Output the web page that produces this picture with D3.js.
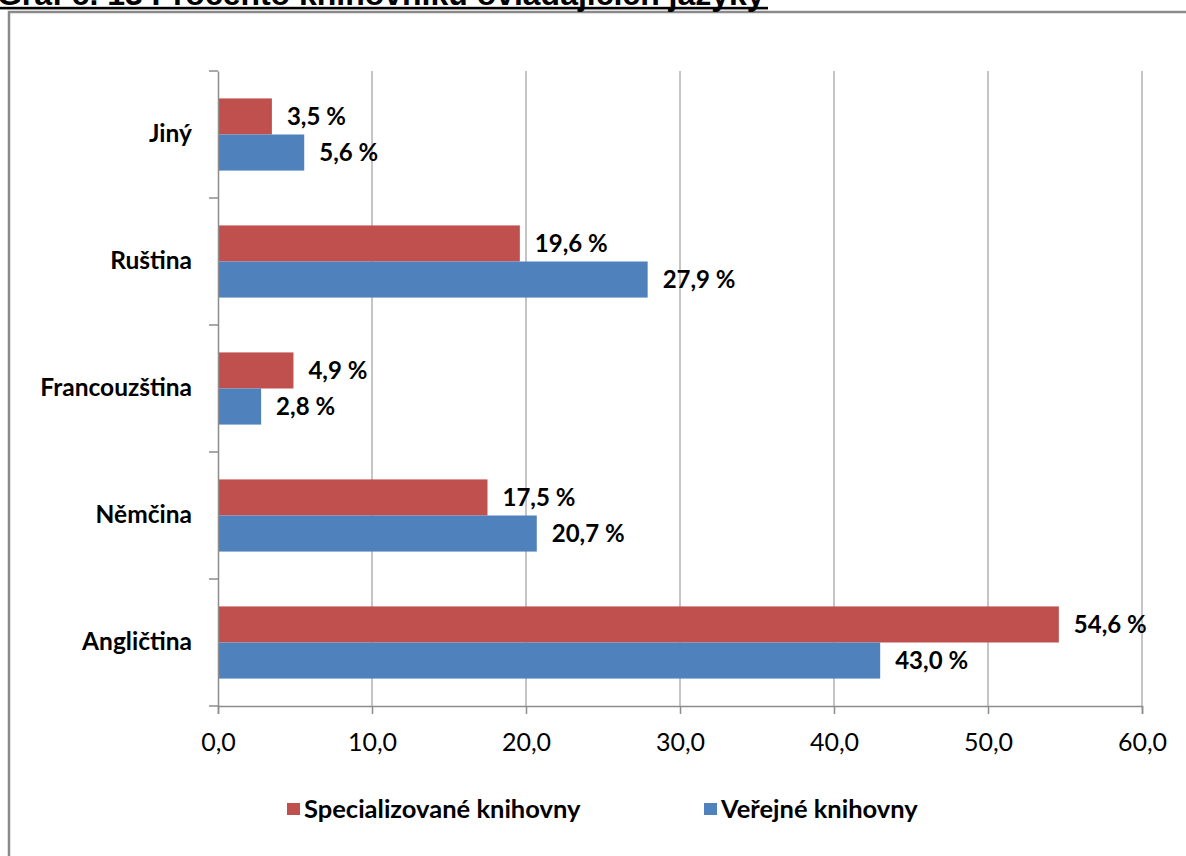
<!DOCTYPE html>
<html>
<head>
<meta charset="utf-8">
<script src="https://cdn.jsdelivr.net/npm/d3@7"></script>
<style>
  html, body { margin: 0; padding: 0; background: #fff; }
  svg { display: block; }
</style>
</head>
<body>
<svg id="chart" width="1186" height="856"></svg>
<script>
const titleText = "Graf č. 13 Procento knihovníků ovládajících jazyky";
const categories = ["Jiný", "Ruština", "Francouzština", "Němčina", "Angličtina"];
const seriesNames = ["Specializované knihovny", "Veřejné knihovny"];
const specializovane = [3.5, 19.6, 4.9, 17.5, 54.6];
const verejne = [5.6, 27.9, 2.8, 20.7, 43.0];
const xTicks = [0, 10, 20, 30, 40, 50, 60];
const colors = ["#C0504D", "#4F81BD"];

(function () {
const svg = d3.select("#chart");
const pLeft = 218, pRight = 1142, pTop = 71, pBottom = 706;

// frame
svg.append("rect").attr("x", 9).attr("y", 12).attr("width", 1300).attr("height", 1000)
  .attr("fill", "none").attr("stroke", "#8a8a8a").attr("stroke-width", 2.5);

// clipped title
const title = svg.append("text").attr("x", -3).attr("y", 5)
  .attr("font-family", "Liberation Sans, Arial, sans-serif").attr("font-weight", "bold")
  .attr("font-size", 24).attr("fill", "#000").text(titleText);
const tl = title.node().getComputedTextLength();
title.attr("font-size", 24 * 768 / tl);
svg.append("rect").attr("x", 0).attr("y", 6.8).attr("width", 768).attr("height", 2.6).attr("fill", "#000");

const x = d3.scaleLinear().domain([0, 60]).range([pLeft, pRight]);
const y = d3.scaleBand().domain(categories).range([pTop, pBottom]).paddingInner(0).paddingOuter(0);
const inner = d3.scaleBand().domain([0, 1]).range([0, y.bandwidth()]).paddingOuter(0.76).paddingInner(0);

// gridlines
svg.append("g").selectAll("line").data(xTicks.filter(d => d > 0)).join("line")
  .attr("x1", d => x(d)).attr("x2", d => x(d)).attr("y1", pTop).attr("y2", pBottom)
  .attr("stroke", "#8c8c8c").attr("stroke-width", 1);

// bars
const data = categories.map((c, i) => ({ c, vals: [specializovane[i], verejne[i]] }));
const groups = svg.append("g").selectAll("g").data(data).join("g")
  .attr("transform", d => `translate(0,${y(d.c)})`);
groups.selectAll("rect").data(d => d.vals.map((v, k) => ({ v, k }))).join("rect")
  .attr("x", x(0)).attr("y", d => inner(d.k)).attr("width", d => x(d.v) - x(0))
  .attr("height", inner.bandwidth()).attr("fill", d => colors[d.k]);
groups.selectAll("text").data(d => d.vals.map((v, k) => ({ v, k }))).join("text")
  .attr("x", d => x(d.v) + 15).attr("y", d => inner(d.k) + inner.bandwidth() / 2)
  .attr("dy", "0.36em")
  .attr("font-family", "Lato, sans-serif").attr("font-weight", "bold").attr("font-size", 24)
  .attr("fill", "#000")
  .text(d => d.v.toFixed(1).replace(".", ",") + " %");

// y axis
const yAxis = d3.axisLeft(y).tickSize(0).tickPadding(26);
const gy = svg.append("g").attr("transform", `translate(${pLeft},0)`).call(yAxis);
gy.select(".domain").attr("stroke", "#8c8c8c").attr("stroke-width", 1.5);
gy.selectAll("text").attr("font-family", "Lato, sans-serif").attr("font-weight", "bold")
  .attr("font-size", 24.5).attr("fill", "#000");
// category boundary ticks
const bounds = categories.map(c => y(c)).concat([pBottom]);
svg.append("g").selectAll("line").data(bounds).join("line")
  .attr("x1", pLeft - 9).attr("x2", pLeft).attr("y1", d => d).attr("y2", d => d)
  .attr("stroke", "#8c8c8c").attr("stroke-width", 1.5);

// x axis
const xAxis = d3.axisBottom(x).tickValues(xTicks).tickSize(8).tickPadding(19)
  .tickFormat(d => d3.format(".1f")(d).replace(".", ","));
const gx = svg.append("g").attr("transform", `translate(0,${pBottom})`).call(xAxis);
gx.select(".domain").attr("stroke", "#8c8c8c").attr("stroke-width", 1.5);
gx.selectAll(".tick line").attr("stroke", "#8c8c8c").attr("stroke-width", 1.5);
gx.selectAll("text").attr("font-family", "Lato, sans-serif").attr("font-size", 25).attr("fill", "#000");

// legend
const legendX = [287, 704];
const lg = svg.append("g").selectAll("g").data(seriesNames).join("g")
  .attr("transform", (d, i) => `translate(${legendX[i]},809)`);
lg.append("rect").attr("x", 0).attr("y", -6).attr("width", 13).attr("height", 12)
  .attr("fill", (d, i) => colors[i]);
lg.append("text").attr("x", 17).attr("y", 0).attr("dy", "0.36em")
  .attr("font-family", "Lato, sans-serif").attr("font-weight", "bold").attr("font-size", 25.5)
  .attr("fill", "#000").text(d => d);
})();
</script>
</body>
</html>
